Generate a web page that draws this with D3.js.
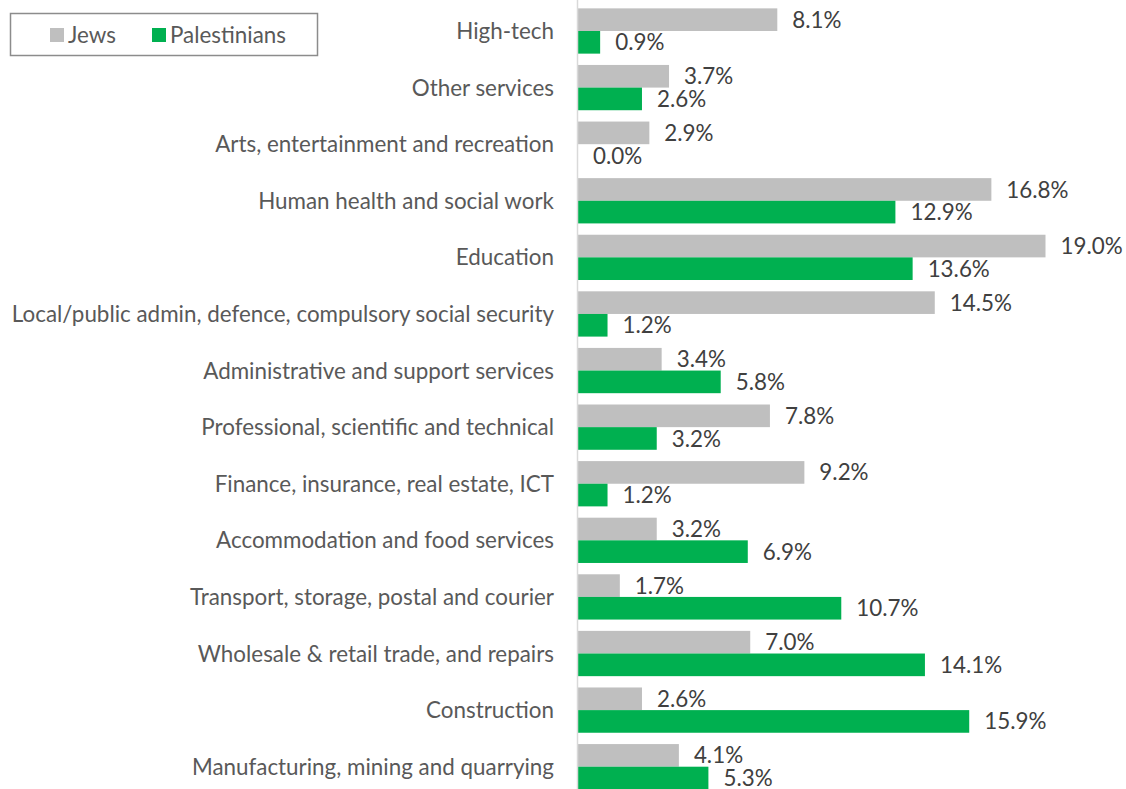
<!DOCTYPE html>
<html>
<head>
<meta charset="utf-8">
<script src="https://cdn.jsdelivr.net/npm/d3@7"></script>
<style>
  body { margin: 0; background: #fff; }
  svg { display: block; font-family: Lato, "Open Sans", sans-serif; }
</style>
</head>
<body>
<svg id="chart" width="1126" height="789"></svg>
<script>
// categories, top to bottom
const categories = [
    "High-tech",
    "Other services",
    "Arts, entertainment and recreation",
    "Human health and social work",
    "Education",
    "Local/public admin, defence, compulsory social security",
    "Administrative and support services",
    "Professional, scientific and technical",
    "Finance, insurance, real estate, ICT",
    "Accommodation and food services",
    "Transport, storage, postal and courier",
    "Wholesale & retail trade, and repairs",
    "Construction",
    "Manufacturing, mining and quarrying"
];

const jews = [8.1, 3.7, 2.9, 16.8, 19.0, 14.5, 3.4, 7.8, 9.2, 3.2, 1.7, 7.0, 2.6, 4.1];
const palestinians = [0.9, 2.6, 0.0, 12.9, 13.6, 1.2, 5.8, 3.2, 1.2, 6.9, 10.7, 14.1, 15.9, 5.3];

const seriesNames = ["Jews", "Palestinians"];
const seriesColors = ["#bfbfbf", "#00b050"];

const svg = d3.select("#chart");
const fontSize = 22.4;

const x = d3.scaleLinear()
    .domain([0, 19])
    .range([578, 1045.5]);

const y = d3.scaleBand()
    .domain(categories)
    .range([2.7, 795])
    .paddingInner(0.2)
    .paddingOuter(0.1);

const inner = d3.scaleBand()
    .domain(seriesNames)
    .range([0, y.bandwidth()]);

const rows = categories.map((c, i) => ({ cat: c, values: [jews[i], palestinians[i]] }));

const group = svg.selectAll(".row")
    .data(rows)
    .enter().append("g")
    .attr("class", "row")
    .attr("transform", d => `translate(0,${y(d.cat)})`);

group.selectAll("rect")
    .data(d => d.values.map((v, k) => ({ v, k })))
    .enter().append("rect")
    .attr("x", x(0))
    .attr("y", d => inner(seriesNames[d.k]))
    .attr("width", d => x(d.v) - x(0))
    .attr("height", inner.bandwidth())
    .attr("fill", d => seriesColors[d.k]);

// value labels
group.selectAll(".val")
    .data(d => d.values.map((v, k) => ({ v, k })))
    .enter().append("text")
    .attr("class", "val")
    .attr("x", d => x(d.v) + 15)
    .attr("y", d => inner(seriesNames[d.k]) + inner.bandwidth() / 2)
    .attr("dy", "0.36em")
    .attr("fill", "#404040")
    .style("font-size", fontSize + "px")
    .text(d => d.v.toFixed(1) + "%");

// category labels
svg.selectAll(".cat")
    .data(categories)
    .enter().append("text")
    .attr("class", "cat")
    .attr("x", 554)
    .attr("y", d => y(d) + y.bandwidth() / 2)
    .attr("dy", "0.36em")
    .attr("text-anchor", "end")
    .attr("fill", "#595959")
    .style("font-size", fontSize + "px")
    .text(d => d);

// axis line
svg.append("line")
    .attr("x1", x(0) - 0.5)
    .attr("x2", x(0) - 0.5)
    .attr("y1", 0)
    .attr("y2", 789)
    .attr("stroke", "#d9d9d9")
    .attr("stroke-width", 1.5);

// legend
const legend = svg.append("g");
legend.append("rect")
    .attr("x", 10.5)
    .attr("y", 13.5)
    .attr("width", 307)
    .attr("height", 42)
    .attr("fill", "#fff")
    .attr("stroke", "#8c8c8c")
    .attr("stroke-width", 1.5);

const legendX = [50, 152];
seriesNames.forEach((name, k) => {
    legend.append("rect")
        .attr("x", legendX[k])
        .attr("y", 28)
        .attr("width", 14)
        .attr("height", 14)
        .attr("fill", seriesColors[k]);
    legend.append("text")
        .attr("x", legendX[k] + 18)
        .attr("y", 35)
        .attr("dy", "0.36em")
        .attr("fill", "#595959")
        .style("font-size", fontSize + "px")
        .text(name);
});
</script>
</body>
</html>
